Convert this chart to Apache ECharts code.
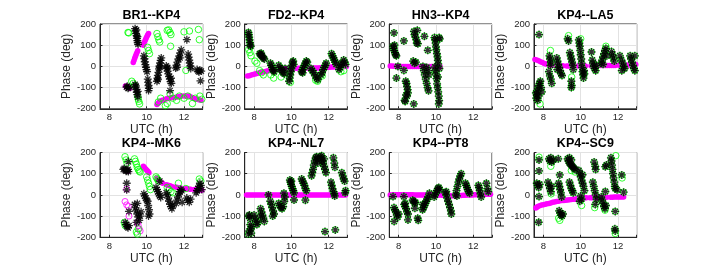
<!DOCTYPE html>
<html><head><meta charset="utf-8">
<script src="https://cdn.jsdelivr.net/npm/echarts@6/dist/echarts.min.js"></script>
<style>html,body{margin:0;padding:0;background:#fff}#c{width:703px;height:271px}</style>
</head><body><div id="c"></div><script>
// ---------------- data ----------------
const titles = ['BR1--KP4','FD2--KP4','HN3--KP4','KP4--LA5','KP4--MK6','KP4--NL7','KP4--PT8','KP4--SC9'];
const xTicks = [8, 10, 12];
const yTicks = [-200, -100, 0, 100, 200];
const xLabel = 'UTC (h)';
const yLabel = 'Phase (deg)';

// BR1--KP4
const br1Star = [[8.92,-98],[8.96,-94],[9.0,-103],[9.04,-100],
[9.38,178],[9.41,168],[9.43,155],[9.46,145],[9.48,132],[9.5,122],[9.52,112],[9.54,104],[9.45,172],[9.5,140],
[9.38,-85],[9.41,-98],[9.44,-110],[9.47,-122],[9.5,-133],[9.53,-145],[9.42,-92],[9.52,-118],
[9.85,50],[9.88,36],[9.9,22],[9.93,8],[9.96,-4],[9.99,-15],[10.02,-25],
[10.06,-60],[10.08,-75],[10.1,-90],[10.12,-104],[10.1,-114],
[10.55,-70],[10.58,-56],[10.6,-42],[10.63,-28],[10.66,-12],[10.69,2],[10.72,16],[10.75,28],[10.78,40],[10.6,-62],[10.7,-4],
[11.05,2],[11.08,-10],[11.12,-22],[11.16,-35],[11.2,-48],[11.24,-60],[11.28,-72],[11.32,-80],[11.12,-5],[11.3,-56],
[11.25,-114],
[11.55,-8],[11.6,6],[11.65,20],[11.7,35],[11.75,50],[11.8,64],[11.85,78],[11.62,-4],[11.78,40],
[12.15,126],
[12.22,58],[12.25,44],[12.28,30],[12.31,16],[12.34,2],[12.36,-10],
[12.7,-15],[12.75,-22],[12.8,-26],[12.85,-18],[12.92,-22],
[12.88,-68]];
const br1Green = [[9.0,160],[9.04,158],
[9.2,-70],[9.28,-80],[9.35,-90],
[9.52,-140],[9.55,-155],[9.58,-165],[9.62,-177],
[10.05,90],[10.1,75],[10.15,60],
[10.55,155],[10.6,140],[10.65,125],[10.7,115],
[11.1,170],[11.18,172],[11.25,160],[11.3,150],[11.28,95],
[12.0,163],[12.29,167],[12.77,174],[12.82,126],[12.1,-19],
[10.62,-168],[10.75,-150],[11.0,-185],[11.1,-175],[11.25,-130],[11.4,-150],[11.6,-160],[11.75,-140],[12.0,-150],[12.2,-140],[12.45,-175],[12.6,-150],[12.85,-140],[12.95,-155]];
const br1Model = [[8.86,-92],[8.92,-95],[8.98,-98],[9.04,-100],[9.1,-103],
[9.28,18],[9.32,28],[9.36,38],[9.4,48],[9.44,57],[9.48,66],[9.52,74],
[9.82,100],[9.86,110],[9.9,119],[9.94,127],[9.98,135],[10.02,142],[10.06,149],[10.1,155],
[10.55,-180],[10.6,-175],[10.65,-170],[10.7,-166],[10.8,-161],[10.9,-158],[11.0,-155],[11.1,-152],[11.2,-150],[11.3,-148],[11.4,-147],[11.55,-145],[11.65,-143],[11.75,-142],[11.85,-140],[12.0,-140],[12.1,-140],[12.2,-140],[12.3,-141],[12.4,-145],[12.5,-150],[12.6,-153],[12.7,-155],[12.8,-157],[12.9,-160]];

// FD2--KP4
const fd2Star = [[7.7,160],[7.72,150],[7.74,138],[7.76,125],[7.78,112],[7.8,100],[7.82,95],
[8.3,60],[8.35,55],[8.4,50],[8.45,45],[8.5,40],[8.55,35],[8.38,62],
[8.88,15],[8.92,5],[8.96,-5],[9.0,-15],[9.04,-20],[9.08,-25],
[9.32,5],[9.38,-5],[9.44,-15],[9.5,-20],[9.56,-30],[9.62,-35],[9.66,-10],
[9.88,-70],[9.91,-55],[9.94,-40],[9.97,-25],[10.0,-10],[10.03,5],[10.06,20],[10.1,25],[10.12,10],
[10.55,-25],[10.6,-15],[10.65,-5],[10.7,5],[10.75,15],[10.8,25],[10.85,20],[10.6,-30],
[11.05,-10],[11.12,-20],[11.2,-30],[11.28,-45],[11.35,-55],[11.42,-62],
[11.58,-40],[11.64,-30],[11.7,-15],[11.76,-5],[11.82,5],[11.86,15],
[12.15,60],[12.2,50],[12.25,40],[12.3,30],[12.35,20],[12.4,10],
[12.55,-15],[12.6,-5],[12.65,5],[12.7,15],
[12.8,30],[12.85,20],[12.9,10]];
const fd2GreenExtra = [[7.72,80],[7.78,65],[7.84,50],[8.05,25],[8.15,15],[8.3,-20],[8.4,-30],[8.5,-40],[8.9,-40],[9.05,-55],[9.45,-50],[9.95,-75],[11.3,-65],[11.4,-70],[11.65,-45],[12.65,-25],[12.8,-20]];
const fd2Model = [[7.65,-45],[7.75,-44],[7.85,-41],[7.95,-38],[8.05,-36],[8.15,-34],[8.25,-31],[8.35,-29],[8.45,-27],[8.55,-25],[8.65,-23],[8.75,-21],[8.85,-19],[8.95,-18],[9.05,-16],[9.15,-15],[9.25,-14],[9.35,-13],[9.45,-12],[9.55,-11],[9.65,-11],[9.75,-10],[9.85,-10],[9.95,-10],[10.05,-10],[10.15,-9],[10.25,-9],[10.35,-9],[10.45,-9],[10.55,-9],[10.65,-9],[10.75,-8],[10.85,-8],[10.95,-8],[11.05,-8],[11.15,-8],[11.25,-7],[11.35,-7],[11.45,-7],[11.55,-6],[11.65,-6],[11.75,-5],[11.85,-5],[11.95,-4],[12.05,-4],[12.15,-3],[12.25,-3],[12.35,-2],[12.45,-2],[12.55,-1],[12.65,-1],[12.75,0],[12.85,0],[12.95,0]];

// HN3--KP4
const hn3Star = [[7.75,158],[7.7,95],[7.73,85],[7.76,75],[7.8,65],[7.84,55],[7.88,50],[7.78,100],
[7.88,-55],[7.96,0],[8.28,120],[8.28,-19],
[8.38,-70],[8.42,-80],[8.45,-95],[8.48,-110],[8.5,-125],[8.4,-135],[8.45,-140],[8.32,-160],[8.35,-165],
[8.81,-177],[8.82,165],[8.85,150],[8.9,138],[8.95,125],[9.0,170],[8.97,110],
[8.78,25],[8.85,15],[8.92,20],[9.03,107],[9.38,142],
[9.3,0],[9.35,-20],[9.4,-40],[9.45,-60],[9.5,-80],[9.55,-100],[9.6,-115],[9.5,-5],[9.58,-20],[9.62,-40],[9.56,76],
[9.92,136],[9.95,125],[9.98,110],[10.0,92],[10.02,78],[10.05,60],[10.08,45],[10.1,28],[10.12,12],
[9.95,-3],[9.97,-20],[10.0,-35],[10.03,-58],[10.06,-82],[10.09,-100],[10.12,-120],[10.15,-140],[10.17,-161],[10.15,-177],[10.18,-10],[10.2,130],[10.17,136],[10.1,-50]];
const hn3Model = [[7.55,2],[7.65,2],[7.75,1],[7.85,1],[7.95,1],[8.05,0],[8.15,0],[8.25,0],[8.35,-1],[8.45,-1],[8.55,-1],[8.65,-1],[8.75,0],[8.85,0],[8.95,0],[9.05,0],[9.15,0],[9.25,0],[9.35,0],[9.45,0],[9.55,0],[9.65,0],[9.75,0],[9.85,0],[9.95,0],[10.05,0],[10.15,0],[10.22,0]];

// KP4--LA5
const la5Star = [[7.77,150],
[7.62,-150],[7.65,-135],[7.68,-120],[7.72,-105],[7.76,-90],[7.8,-80],[7.84,-70],[7.88,-100],[7.92,-120],[7.7,-160],[7.75,-140],[7.6,-125],
[8.33,50],[8.36,35],[8.4,20],[8.38,5],
[8.3,-25],[8.35,-45],[8.4,-60],[8.45,-80],
[8.72,40],[8.76,25],[8.8,10],[8.85,-5],[8.9,-20],[8.95,-35],[9.0,-43],[8.75,-15],
[9.3,130],[9.35,120],
[9.42,65],[9.46,50],[9.5,35],[9.54,20],[9.58,5],[9.6,-15],
[9.5,-70],[9.52,-90],[9.5,-100],
[9.9,125],[9.93,110],[9.95,95],[9.98,75],[10.0,55],[10.03,35],[10.05,15],[10.08,-5],[10.1,-25],[10.13,-40],[10.15,-55],[10.18,-20],[10.2,-35],
[10.58,68],
[10.62,30],[10.66,15],[10.7,0],[10.75,-10],[10.8,-20],[10.85,5],
[11.1,15],[11.15,30],[11.2,45],[11.25,60],[11.3,75],[11.35,85],[11.2,10],[11.4,50],
[11.65,70],[11.7,55],[11.75,40],[11.8,25],
[12.1,50],[12.18,30],[12.25,15],[12.3,0],[12.35,-10],[12.2,-20],
[12.65,50],[12.7,35],[12.75,20],[12.8,5],[12.85,-10],[12.9,-20],[12.9,50]];
const la5GreenExtra = [[7.82,-177],[8.38,75],[9.35,145],[10.0,130],[9.52,-50],[11.35,95]];
const la5Model = [[7.55,32],[7.65,30],[7.75,27],[7.85,22],[7.95,18],[8.05,14],[8.15,11],[8.25,9],[8.35,8],[8.45,6],[8.55,5],[8.65,4],[8.75,4],[8.85,3],[8.95,3],[9.05,3],[9.25,2],[9.35,2],[9.45,2],[9.55,2],[9.65,2],[9.85,2],[9.95,2],[10.05,2],[10.15,2],[10.25,2],[10.55,3],[10.65,3],[10.75,3],[10.85,3],[11.05,4],[11.15,4],[11.25,4],[11.35,4],[11.45,4],[11.55,4],[11.65,4],[11.75,4],[11.85,4],[12.05,5],[12.15,5],[12.25,5],[12.35,6],[12.45,6],[12.55,7],[12.65,7],[12.75,8],[12.85,8],[12.95,9]];

// KP4--MK6
const mk6Star = [[8.75,120],[8.8,125],[8.85,118],[8.9,112],[8.95,115],[9.0,120],[9.02,110],
[9.02,157],[8.93,55],[8.93,24],
[8.85,-130],[8.9,-140],[8.95,-150],[9.0,-155],[9.05,-145],[9.05,-78],
[9.35,-45],[9.4,-60],[9.45,-75],[9.5,-90],[9.55,-105],[9.6,-120],[9.65,-100],[9.7,-80],[9.45,-130],[9.5,-40],
[9.85,5],[9.9,-5],[9.95,-15],[10.0,-25],
[10.05,-30],[10.08,-50],[10.12,-70],[10.15,-90],[10.1,-100],
[10.5,35],[10.55,25],[10.6,15],[10.65,5],[10.7,-5],[10.75,-12],[10.7,65],
[11.05,10],[11.1,0],[11.15,-15],[11.2,-30],[11.25,-45],[11.3,-55],[11.35,-65],[11.4,-50],
[11.58,-40],[11.63,-25],[11.68,-10],[11.73,5],[11.78,15],[11.83,25],[11.88,20],[11.9,-35],
[12.15,-15],[12.2,-25],[12.28,-35],[12.35,-20],
[12.65,10],[12.7,20],[12.75,30],[12.8,40],[12.85,55],[12.9,45],[12.95,25]];
const mk6Green = [[8.84,180],[8.9,165],[8.95,150],
[9.35,170],[9.4,158],[9.45,145],[9.5,130],[9.55,120],[9.6,112],[9.65,108],
[10.0,85],[10.05,70],[10.1,55],[10.15,40],[10.2,25],
[10.5,85],[10.55,78],[10.6,70],[10.65,65],
[11.1,35],[11.2,25],[11.3,15],[11.4,10],
[11.7,55],[12.1,30],[12.82,75],[12.9,65],
[8.8,-130],[8.85,-145],[9.45,-175],[9.5,-185],[9.55,-160]];
const mk6Model = [[8.85,118],[8.9,116],[8.95,114],[9.0,112],
[9.82,135],[9.87,130],[9.92,125],[9.97,120],[10.02,115],[10.07,110],[10.12,105],
[10.55,78],[10.65,70],[10.75,62],[10.85,55],[11.05,48],[11.15,45],[11.25,43],[11.35,40],[11.55,37],[11.65,35],[11.75,33],[11.85,31],[12.05,30],[12.15,29],[12.25,28],[12.35,27],[12.55,26],[12.65,25],[12.75,24],[12.85,23],[12.95,22]];
const mk6ModelOpen = [[8.93,27],[8.84,-31],[8.93,-47],[9.02,-55],[9.05,-100],[9.5,-130],[9.55,-145],[9.6,-160],[9.65,-170]];

// KP4--NL7
const nl7Star = [[7.72,-100],[7.75,-95],[7.78,-110],[7.8,-140],[7.82,-160],[7.85,-180],[7.75,-170],[7.88,-150],[7.7,-185],
[8.0,-95],[8.05,-110],[8.1,-125],[8.15,-140],[8.2,-130],
[8.35,-65],[8.4,-80],[8.45,-95],[8.5,-110],[8.55,-125],[8.35,-100],
[8.77,0],
[8.87,-30],[8.92,-45],[8.97,-60],[9.02,-75],[9.07,-90],[9.0,-100],
[9.32,-40],[9.38,-50],[9.44,-60],[9.5,-65],[9.56,-55],[9.62,-30],[9.65,-10],[9.6,8],
[9.92,70],[9.95,60],[9.98,50],[10.02,40],[10.06,30],[10.1,20],[10.14,10],[10.0,65],[10.14,-24],
[10.55,75],[10.6,65],[10.65,55],[10.7,45],[10.75,30],[10.8,20],[10.75,-25],
[11.08,90],[11.12,105],[11.16,120],[11.2,140],[11.25,160],[11.3,175],[11.35,180],[11.4,165],[11.42,150],
[11.55,180],[11.6,170],[11.65,160],[11.7,150],[11.75,135],[11.8,120],[11.85,105],[11.62,185],[11.75,170],
[11.8,-173],
[12.12,60],[12.16,45],[12.2,30],[12.25,15],[12.3,5],[12.32,-5],
[12.25,175],[12.3,150],[12.33,130],[12.35,-165],
[12.7,105],[12.75,90],[12.8,75],[12.85,65],[12.9,20],[12.88,10]];
const nl7Model = [[7.6,0],[7.7,0],[7.8,0],[7.9,0],[8.0,0],[8.1,0],[8.2,0],[8.3,0],[8.4,0],[8.5,0],[8.6,0],[8.7,0],[8.8,0],[8.9,0],[9.0,0],[9.1,0],[9.2,0],[9.3,0],[9.4,0],[9.5,0],[9.6,0],[9.7,0],[9.8,0],[9.9,0],[10.0,0],[10.1,0],[10.2,0],[10.3,0],[10.4,0],[10.5,0],[10.6,0],[10.7,0],[10.8,0],[10.9,0],[11.0,0],[11.1,0],[11.2,0],[11.3,0],[11.4,0],[11.5,0],[11.6,0],[11.7,0],[11.8,0],[11.9,0],[12.0,0],[12.1,0],[12.2,0],[12.3,0],[12.4,0],[12.5,0],[12.6,0],[12.7,0],[12.8,0],[12.9,0]];

// KP4--PT8
const pt8Star = [[7.7,-8],
[7.75,-60],[7.8,-70],[7.85,-80],[7.9,-95],[7.95,-105],[8.0,-90],[7.76,-125],
[8.28,-8],
[8.3,-45],[8.35,-55],[8.4,-65],[8.45,-80],[8.5,-90],[8.35,-40],[8.5,-118],
[8.75,-25],[8.8,-30],[8.85,-38],[8.9,-35],[8.87,-63],[9.02,-110],[9.05,-120],
[9.28,-70],[9.33,-60],[9.38,-50],[9.43,-40],[9.48,-30],[9.53,-20],[9.58,-10],[9.3,-45],[9.65,8],
[9.9,-10],[9.95,0],[10.0,10],[10.05,20],[10.1,30],[10.15,35],[10.2,25],
[10.5,10],[10.55,0],[10.6,-15],[10.65,-30],[10.7,-45],[10.75,-60],[10.8,-75],[10.82,-90],[10.55,15],
[11.05,0],[11.1,20],[11.15,40],[11.2,60],[11.25,75],[11.3,90],[11.35,100],[11.12,-5],
[11.58,55],[11.62,45],[11.66,35],[11.7,25],[11.75,15],[11.8,8],
[12.27,45],[12.3,35],[12.34,20],[12.38,5],[12.42,-10],
[12.7,55],[12.75,30],[12.8,15]];
const pt8Model = [[7.55,0],[7.65,0],[7.75,1],[7.85,1],[7.95,1],[8.05,1],[8.15,1],[8.25,1],[8.35,1],[8.45,1],[8.55,1],[8.65,1],[8.75,1],[8.85,0],[8.95,0],[9.05,0],[9.15,0],[9.25,0],[9.35,0],[9.45,0],[9.55,0],[9.65,0],[9.75,0],[9.85,0],[9.95,0],[10.05,-1],[10.15,-1],[10.25,-1],[10.35,-2],[10.45,-2],[10.55,-3],[10.65,-3],[10.75,-4],[10.85,-4],[10.95,-4],[11.05,-4],[11.15,-3],[11.25,-3],[11.35,-3],[11.45,-2],[11.55,-2],[11.65,-1],[11.75,-1],[11.85,0],[11.95,0],[12.05,1],[12.15,1],[12.25,2],[12.35,2],[12.45,2],[12.55,3],[12.65,3],[12.75,3],[12.85,3],[12.92,3]];

// KP4--SC9
const sc9Star = [[7.77,165],[7.77,113],[7.65,55],[7.7,45],[7.75,35],[7.8,50],[7.77,-8],[7.75,-129],
[8.3,170],[8.35,160],[8.4,175],[8.45,155],[8.55,165],[8.8,170],
[8.25,60],[8.3,45],[8.35,30],[8.4,15],[8.45,40],
[8.88,94],[8.82,55],[8.86,40],[8.9,25],[8.94,10],[8.98,-10],
[8.85,-75],[8.9,-85],[8.95,-95],[9.0,-100],[9.05,-90],
[9.3,170],[9.35,160],[9.4,150],[9.45,145],[9.5,140],[9.55,135],[9.6,130],[9.65,125],[9.7,120],[9.4,175],[9.5,165],
[9.4,60],[9.45,45],[9.5,30],[9.55,20],[9.6,10],
[9.9,115],[9.95,100],[10.0,85],[10.05,70],[10.1,55],[10.15,40],[10.2,20],[10.0,-5],[10.05,-20],[9.95,-30],[10.1,95],
[10.72,155],[10.78,135],[10.8,120],
[10.65,60],[10.7,40],[10.75,20],[10.8,0],[10.85,-20],[10.78,-45],
[11.1,-10],[11.15,-25],[11.2,-40],[11.25,-55],[11.3,-65],[11.35,-50],
[11.32,133],[11.38,141],[11.32,16],
[11.62,175],[11.65,160],[11.68,140],[11.7,120],[11.73,100],[11.76,80],[11.8,60],[11.83,40],[11.85,30],
[11.85,-78],[11.83,-160],[11.85,-170],[11.95,24],[12.2,94],[12.3,13]];
const sc9GreenExtra = [[7.77,178],[8.4,135],[8.82,-110],[8.88,-120],[9.5,115],[10.05,-50],[10.75,-60],[11.3,-72],[11.88,185],[11.85,-182],[12.22,80],[8.42,5],[9.7,108]];
const sc9Model = [[7.6,-62],[7.65,-58],[7.7,-55],[7.8,-51],[7.9,-48],[8.0,-46],[8.1,-44],[8.2,-42],[8.3,-40],[8.4,-38],[8.5,-35],[8.6,-33],[8.7,-31],[8.8,-30],[8.9,-28],[9.0,-27],[9.1,-26],[9.2,-25],[9.3,-24],[9.4,-23],[9.5,-22],[9.6,-21],[9.7,-20],[9.8,-18],[9.9,-17],[10.0,-16],[10.1,-15],[10.2,-15],[10.3,-14],[10.5,-13],[10.6,-13],[10.7,-13],[10.8,-12],[10.9,-12],[11.1,-12],[11.2,-12],[11.3,-11],[11.4,-11],[11.6,-11],[11.7,-11],[11.8,-10],[11.9,-10],[12.0,-10],[12.1,-10],[12.2,-10],[12.3,-10]];

// ---------------- chart ----------------
const panels = [
  {star: br1Star, green: br1Green, model: br1Model},
  {star: fd2Star, green: fd2Star.concat(fd2GreenExtra), model: fd2Model},
  {star: hn3Star, green: hn3Star, model: hn3Model},
  {star: la5Star, green: la5Star.concat(la5GreenExtra), model: la5Model},
  {star: mk6Star, green: mk6Green, model: mk6Model, modelOpen: mk6ModelOpen},
  {star: nl7Star, green: nl7Star, model: nl7Model},
  {star: pt8Star, green: pt8Star, model: pt8Model},
  {star: sc9Star, green: sc9Star.concat(sc9GreenExtra), model: sc9Model}
];

const colLeft = [100, 244.7, 389.3, 534];
const rowTop = [24, 152.5];
const W = 102.7, H = 84.8;
const FONT = '"Liberation Sans", Arial, Helvetica, sans-serif';
const AX = '#262626';
const STAR = 'path://M5,0L5,10M0,5L10,5M1.6,1.6L8.4,8.4M1.6,8.4L8.4,1.6';

const grid = [], xAxis = [], yAxis = [], series = [], title = [];
panels.forEach((p, i) => {
  const c = i % 4, r = Math.floor(i / 4);
  grid.push({left: colLeft[c], top: rowTop[r], width: W, height: H, show: true,
    borderColor: AX, borderWidth: 1, backgroundColor: '#fff', containLabel: false});
  title.push({text: titles[i], left: colLeft[c] + W / 2, top: rowTop[r] - 15, textAlign: 'center', padding: 0,
    textStyle: {fontFamily: FONT, fontSize: 12.5, fontWeight: 'bold', color: '#000'}});
  xAxis.push({type: 'value', gridIndex: i, min: 7.5, max: 13, splitNumber: 3, minInterval: 2, maxInterval: 2,
    name: xLabel, nameLocation: 'middle', nameGap: 14,
    nameTextStyle: {fontFamily: FONT, fontSize: 12, color: AX},
    axisLine: {show: true, onZero: false, lineStyle: {color: AX, width: 1}},
    axisTick: {show: true, inside: true, length: 2.5, lineStyle: {color: AX}},
    axisLabel: {fontFamily: FONT, fontSize: 9.5, color: AX, margin: 4,
      formatter: v => xTicks.includes(v) ? String(v) : ''},
    splitLine: {show: true, lineStyle: {color: '#e2e2e2', width: 1}}});
  yAxis.push({type: 'value', gridIndex: i, min: yTicks[0], max: yTicks[yTicks.length - 1], interval: 100,
    name: yLabel, nameLocation: 'middle', nameGap: 26,
    nameTextStyle: {fontFamily: FONT, fontSize: 12, color: AX},
    axisLine: {show: true, onZero: false, lineStyle: {color: AX, width: 1}},
    axisTick: {show: true, inside: true, length: 2.5, lineStyle: {color: AX}},
    axisLabel: {fontFamily: FONT, fontSize: 9.5, color: AX, margin: 4,
      formatter: v => yTicks.includes(v) ? String(v) : ''},
    splitLine: {show: true, lineStyle: {color: '#e2e2e2', width: 1}}});
  series.push({type: 'scatter', xAxisIndex: i, yAxisIndex: i, data: p.model, symbol: 'circle', symbolSize: 5.5,
    itemStyle: {color: '#ff00ff', opacity: 1}, silent: true, z: 2});
  if (p.modelOpen) series.push({type: 'scatter', xAxisIndex: i, yAxisIndex: i, data: p.modelOpen, symbol: 'circle', symbolSize: 6,
    itemStyle: {color: 'rgba(0,0,0,0)', borderColor: '#ff00ff', borderWidth: 1}, silent: true, z: 2});
  series.push({type: 'scatter', xAxisIndex: i, yAxisIndex: i, data: p.green, symbol: 'circle', symbolSize: 6.5,
    itemStyle: {color: 'rgba(0,0,0,0)', borderColor: '#00ff00', borderWidth: 1}, silent: true, z: 3});
  series.push({type: 'scatter', xAxisIndex: i, yAxisIndex: i, data: p.star, symbol: STAR, symbolSize: 8,
    itemStyle: {color: 'rgba(0,0,0,0)', borderColor: '#000', borderWidth: 1.3}, silent: true, z: 4});
});

const chart = echarts.init(document.getElementById('c'), null, {renderer: 'canvas'});
chart.setOption({animation: false, backgroundColor: '#fff', title, grid, xAxis, yAxis, series});
</script></body></html>
